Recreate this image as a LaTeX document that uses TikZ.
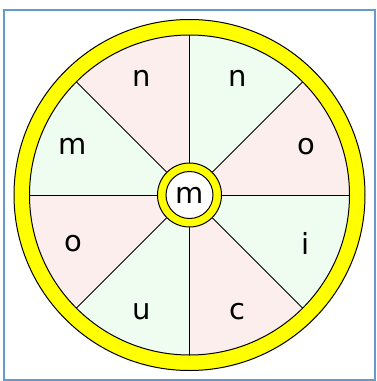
\documentclass[tikz,border=0pt]{standalone}
\usepackage{fontspec}
\setmainfont{DejaVu Sans}
\definecolor{pinkfill}{RGB}{253,238,238}
\definecolor{greenfill}{RGB}{239,253,240}
\definecolor{framecol}{RGB}{102,153,204}
\definecolor{ringcol}{RGB}{255,255,0}
\begin{document}
\begin{tikzpicture}[x=1pt,y=-1pt,
  sectorline/.style={draw=black,line width=0.8pt},
  lbl/.style={font=\fontsize{29}{29}\selectfont},
  ringline/.style={draw=black,line width=1pt}]
\useasboundingbox (0,0) rectangle (376,381);
\draw[framecol,line width=2pt] (3.5,9.5) rectangle (375,380);
\coordinate (c) at (189.5,195);
% outer ring
\fill[ringcol,even odd rule] (c) circle (175.5) (c) circle (160);
\draw[ringline] (c) circle (175.5);
% sectors
\foreach \a/\col in {0/pinkfill,45/greenfill,90/pinkfill,135/greenfill,180/pinkfill,225/greenfill,270/pinkfill,315/greenfill}{
  \fill[\col] (c) -- ++(-\a:160) arc[start angle=-\a,end angle=-\a-45,radius=160] -- cycle;
}
\foreach \a in {0,45,...,315}{
  \draw[sectorline] (c) -- ++(\a:160);
}
\draw[ringline] (c) circle (160);
% hub
\fill[ringcol] (c) circle (32);
\draw[ringline] (c) circle (32);
\fill[white] (c) circle (23.5);
\draw[ringline] (c) circle (23.5);
\node[lbl] (hub) at (c) {m};
% labels
\node[lbl] (l1) at ([shift={(-67.5:126)}]c) {n};
\node[lbl] (l2) at ([shift={(-112.5:126)}]c) {n};
\node[lbl] (l3) at ([shift={(-157.5:126)}]c) {m};
\node[lbl] (l4) at ([shift={(157.5:126)}]c) {o};
\node[lbl] (l5) at ([shift={(112.5:126)}]c) {u};
\node[lbl] (l6) at ([shift={(67.5:126)}]c) {c};
\node[lbl] (l7) at ([shift={(22.5:126)}]c) {i};
\node[lbl] (l8) at ([shift={(-22.5:126)}]c) {o};
\end{tikzpicture}
\end{document}
